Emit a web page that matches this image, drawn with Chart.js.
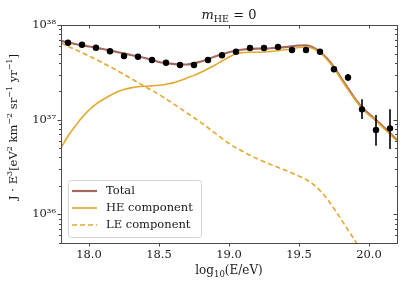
<!DOCTYPE html>
<html><head><meta charset="utf-8">
<script src="https://cdn.jsdelivr.net/npm/chart.js@4.4.0/dist/chart.umd.min.js"></script>
<style>html,body{margin:0;padding:0;background:#fff;} #wrap{width:407px;height:288px;}</style>
</head><body><div id="wrap"><canvas id="c" width="407" height="288"></canvas></div>
<script>
// ---- data ----
const pointsLogE = [17.85,17.95,18.05,18.15,18.25,18.35,18.45,18.55,18.65,18.75,18.85,18.95,19.05,19.15,19.25,19.35,19.45,19.55,19.65,19.75,19.85,19.95,20.05,20.15];
const pointsJ = [6.50e37,6.19e37,5.76e37,5.28e37,4.71e37,4.63e37,4.27e37,4.00e37,3.78e37,3.78e37,4.27e37,4.79e37,5.22e37,5.72e37,5.72e37,5.86e37,5.45e37,5.45e37,5.22e37,3.41e37,2.80e37,1.288e37,7.79e36,8.11e36];
const errLow  = [null,null,null,null,null,null,null,null,null,null,null,null,null,null,null,null,null,null,null,3.20e37,2.56e37,1.017e37,5.31e36,4.91e36];
const errHigh = [null,null,null,null,null,null,null,null,null,null,null,null,null,null,null,null,null,null,null,3.62e37,3.04e37,1.642e37,1.12e37,1.288e37];

const totalLogE = [17.80,17.90,18.00,18.10,18.20,18.30,18.40,18.50,18.60,18.65,18.70,18.80,18.90,19.00,19.10,19.20,19.30,19.40,19.50,19.55,19.60,19.65,19.70,19.75,19.80,19.85,19.90,19.95,20.00,20.05,20.10,20.15,20.20];
const totalJ = [6.82e37,6.30e37,5.93e37,5.58e37,5.19e37,4.82e37,4.48e37,4.07e37,3.88e37,3.82e37,3.83e37,4.12e37,4.65e37,5.15e37,5.51e37,5.62e37,5.68e37,5.83e37,6.08e37,6.11e37,5.79e37,5.22e37,4.43e37,3.60e37,2.76e37,2.14e37,1.67e37,1.35e37,1.15e37,9.93e36,8.48e36,7.24e36,6.11e36];

const heLogE = [17.80,17.85,17.90,17.95,18.00,18.05,18.10,18.15,18.20,18.25,18.30,18.35,18.40,18.45,18.50,18.55,18.60,18.65,18.70,18.75,18.80,18.85,18.90,18.95,19.00,19.05,19.10,19.15,19.20,19.25,19.30,19.35,19.40,19.45,19.50,19.55,19.60,19.65,19.70,19.75,19.80,19.85,19.90,19.95,20.00,20.05,20.10,20.15,20.20];
const heJ = [5.02e36,6.73e36,8.48e36,1.055e37,1.266e37,1.465e37,1.634e37,1.80e37,1.96e37,2.08e37,2.17e37,2.23e37,2.26e37,2.28e37,2.31e37,2.37e37,2.45e37,2.59e37,2.76e37,2.94e37,3.17e37,3.45e37,3.78e37,4.17e37,4.59e37,4.97e37,5.12e37,5.16e37,5.16e37,5.19e37,5.26e37,5.35e37,5.47e37,5.62e37,5.79e37,5.89e37,5.65e37,5.11e37,4.33e37,3.51e37,2.69e37,2.08e37,1.634e37,1.31e37,1.12e37,9.69e36,8.27e36,7.06e36,5.96e36];

const leLogE = [17.80,17.90,18.00,18.10,18.20,18.30,18.40,18.50,18.60,18.70,18.80,18.90,19.00,19.10,19.20,19.30,19.40,19.50,19.55,19.60,19.65,19.70,19.75,19.80,19.85,19.90,19.95,20.00];
const leJ = [6.45e37,5.51e37,4.71e37,3.97e37,3.31e37,2.72e37,2.24e37,1.845e37,1.483e37,1.177e37,9.34e36,7.24e36,5.61e36,4.62e36,3.89e36,3.36e36,2.94e36,2.54e36,2.34e36,2.09e36,1.79e36,1.47e36,1.154e36,8.94e35,6.85e35,5.30e35,4.01e35,2.99e35];

const xTickValues = [18.0,18.5,19.0,19.5,20.0];
const yMajorTicks = [1e36,1e37,1e38];
const seriesLabels = ['Total','HE component','LE component'];

// ---- styling ----
const FONT = "'DejaVu Serif', serif";
const C_TOTAL = '#a4695d';
const C_HE = '#e4a82c';
const AX = '#4a4a4a';

const toXY = (xs, ys) => xs.map((x, i) => ({x: x, y: ys[i]}));
const errData = [];
pointsLogE.forEach((x, i) => {
  if (errLow[i] != null) {
    errData.push({x: x, y: errLow[i]}, {x: x, y: errHigh[i]}, {x: x, y: null});
  }
});
const SUP = {'0':'⁰','1':'¹','2':'²','3':'³','4':'⁴','5':'⁵','6':'⁶','7':'⁷','8':'⁸','9':'⁹','-':'⁻'};
const supLabel = v => '10' + String(Math.round(Math.log10(v))).split('').map(c => SUP[c]).join('');

function drawSegments(ctx, segs, x, y) {
  // segs: [text, size, dy, italic]
  let cx = x;
  segs.forEach(s => {
    ctx.font = (s[3] ? 'italic ' : '') + s[1] + 'px ' + FONT;
    ctx.fillText(s[0], cx, y + s[2]);
    cx += ctx.measureText(s[0]).width;
  });
}
function segWidth(ctx, segs) {
  let w = 0;
  segs.forEach(s => { ctx.font = (s[3] ? 'italic ' : '') + s[1] + 'px ' + FONT; w += ctx.measureText(s[0]).width; });
  return w;
}

const deco = {
  id: 'deco',
  afterDraw(chart) {
    const ctx = chart.ctx;
    const {left, right, top, bottom} = chart.chartArea;
    const xs = chart.scales.x, ys = chart.scales.y;
    ctx.save();
    // spines
    ctx.strokeStyle = AX; ctx.lineWidth = 1;
    ctx.strokeRect(Math.round(left) + 0.5, Math.round(top) + 0.5, Math.round(right - left), Math.round(bottom - top));
    // x ticks
    ctx.beginPath();
    xTickValues.forEach(v => {
      const px = Math.round(xs.getPixelForValue(v)) + 0.5;
      ctx.moveTo(px, bottom); ctx.lineTo(px, bottom + 3.5);
      ctx.moveTo(px, top); ctx.lineTo(px, top + 3.5);
    });
    // y ticks (major + minor)
    for (let d = 35; d <= 37; d++) {
      for (let m = 1; m <= 9; m++) {
        const v = m * Math.pow(10, d);
        if (v < ys.min * 0.999 || v > ys.max * 1.001) continue;
        const py = Math.round(ys.getPixelForValue(v)) + 0.5;
        const L = m === 1 ? 3.5 : 2;
        ctx.moveTo(left - L, py); ctx.lineTo(left, py);
        ctx.moveTo(right - L, py); ctx.lineTo(right, py);
      }
    }
    const p38 = Math.round(ys.getPixelForValue(1e38)) + 0.5;
    ctx.moveTo(left - 3.5, p38); ctx.lineTo(left, p38);
    ctx.stroke();

    ctx.fillStyle = '#1a1a1a';
    ctx.textBaseline = 'alphabetic';
    ctx.textAlign = 'left';
    const midX = (left + right) / 2;
    // title: m_HE = 0
    const tSegs = [['m', 13, 0, true], ['HE', 9.5, 3, false], [' = 0', 13, 0, false]];
    drawSegments(ctx, tSegs, midX - segWidth(ctx, tSegs) / 2, 19);
    // x axis title
    const xSegs = [['log', 12, 0, false], ['10', 8.5, 3, false], ['(E/eV)', 12, 0, false]];
    drawSegments(ctx, xSegs, midX - segWidth(ctx, xSegs) / 2, 274);
    // y axis title
    const ySegs = [['J · E', 11.5, 0], ['3', 8, -5], ['[eV', 11.5, 0], ['2', 8, -5], [' km', 11.5, 0], ['−2', 8, -5],
                   [' sr', 11.5, 0], ['−1', 8, -5], [' yr', 11.5, 0], ['−1', 8, -5], [']', 11.5, 0]];
    ctx.save();
    ctx.translate(17, 127);
    ctx.rotate(-Math.PI / 2);
    drawSegments(ctx, ySegs, -segWidth(ctx, ySegs) / 2, 0);
    ctx.restore();

    // legend
    const lx = 68.5, ly = 180.5, lw = 133, lh = 57;
    ctx.beginPath();
    ctx.roundRect(lx, ly, lw, lh, 3);
    ctx.fillStyle = 'rgba(255,255,255,0.85)';
    ctx.fill();
    ctx.strokeStyle = '#d4d4d4';
    ctx.stroke();
    const rows = [191, 208, 225];
    const ds = chart.data.datasets;
    rows.forEach((ry, i) => {
      const d = ds[i];
      ctx.beginPath();
      ctx.setLineDash(d.borderDash || []);
      ctx.strokeStyle = d.borderColor;
      ctx.lineWidth = d.borderWidth;
      ctx.moveTo(72, ry); ctx.lineTo(97, ry);
      ctx.stroke();
      ctx.setLineDash([]);
      ctx.fillStyle = '#1a1a1a';
      ctx.font = '11.5px ' + FONT;
      ctx.textBaseline = 'middle';
      ctx.fillText(seriesLabels[i], 106, ry + 0.5);
    });
    ctx.restore();
  }
};

new Chart(document.getElementById('c').getContext('2d'), {
  type: 'line',
  data: {
    datasets: [
      {label: seriesLabels[0], data: toXY(totalLogE, totalJ), borderColor: C_TOTAL, borderWidth: 2.2, pointRadius: 0, cubicInterpolationMode: 'monotone', order: 4},
      {label: seriesLabels[1], data: toXY(heLogE, heJ), borderColor: C_HE, borderWidth: 1.6, pointRadius: 0, cubicInterpolationMode: 'monotone', order: 3},
      {label: seriesLabels[2], data: toXY(leLogE, leJ), borderColor: C_HE, borderWidth: 1.6, borderDash: [5, 3], pointRadius: 0, cubicInterpolationMode: 'monotone', order: 2},
      {label: 'err', data: errData, borderColor: '#000', borderWidth: 1.6, pointRadius: 0, spanGaps: false, order: 1},
      {label: 'Data', data: toXY(pointsLogE, pointsJ), showLine: false, pointRadius: 3.2, pointBackgroundColor: '#000', pointBorderWidth: 0, borderColor: '#000', order: 0}
    ]
  },
  options: {
    responsive: false, animation: false, devicePixelRatio: 1,
    layout: {padding: {left: 0, right: 10, top: 25, bottom: 0}},
    plugins: {legend: {display: false}, tooltip: {enabled: false}, title: {display: false}},
    scales: {
      x: {
        type: 'linear', min: 17.8, max: 20.2,
        grid: {display: false, drawTicks: false}, border: {display: false},
        afterBuildTicks: s => { s.ticks = xTickValues.map(v => ({value: v})); },
        afterFit: s => { s.height = 45; },
        ticks: {callback: v => Number(v).toFixed(1), font: {family: FONT, size: 11.5}, color: '#1a1a1a', padding: 5, maxRotation: 0, autoSkip: false}
      },
      y: {
        type: 'logarithmic', min: 5e35, max: 1e38,
        grid: {display: false, drawTicks: false}, border: {display: false},
        afterBuildTicks: s => { s.ticks = yMajorTicks.map(v => ({value: v, major: true})); },
        afterFit: s => { s.width = 61; },
        ticks: {callback: v => supLabel(v), font: {family: FONT, size: 11.5}, color: '#1a1a1a', padding: 5, autoSkip: false}
      }
    }
  },
  plugins: [deco]
});
</script>
</body></html>
